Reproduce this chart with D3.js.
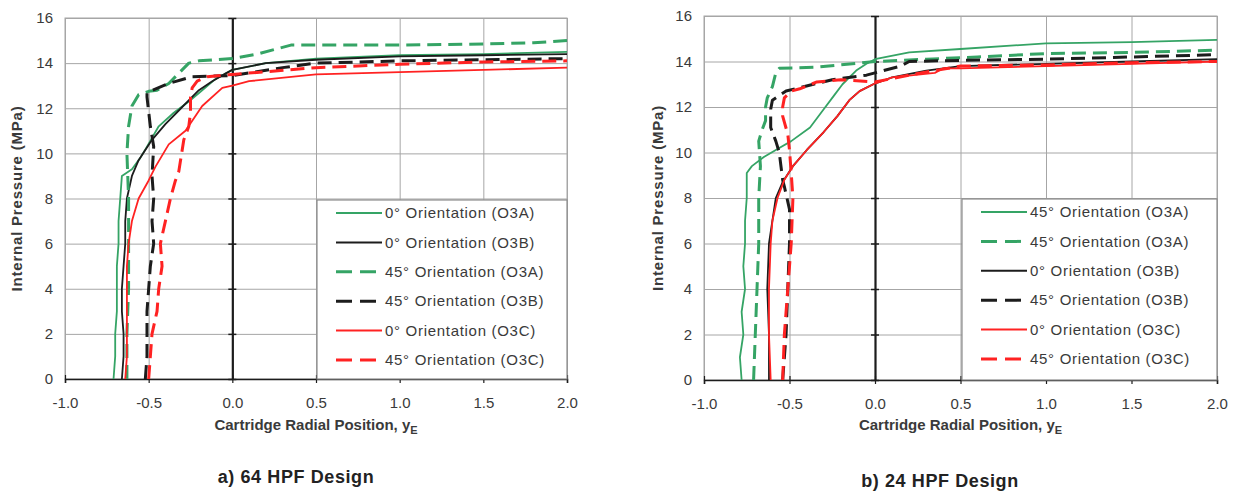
<!DOCTYPE html>
<html>
<head>
<meta charset="utf-8">
<script src="https://cdn.jsdelivr.net/npm/d3@7"></script>
<style>
  html, body { margin: 0; padding: 0; background: #fff; }
  svg { display: block; font-family: "Liberation Sans", Arial, sans-serif; }
</style>
</head>
<body>
<svg id="chart" width="1233" height="494"></svg>
<script>
// Axis ticks shared by both panels
const xTicks = [-1.0, -0.5, 0.0, 0.5, 1.0, 1.5, 2.0];
const yTicks = [0, 2, 4, 6, 8, 10, 12, 14, 16];

// Panel a) 64 HPF design: [radial position yE, internal pressure MPa]
const a_O3A_0 = [[-0.71,0],[-0.70,1],[-0.70,2],[-0.69,3],[-0.69,4],[-0.69,5],[-0.68,6],[-0.68,7],[-0.67,8],[-0.66,9.0],[-0.60,9.3],[-0.55,9.8],[-0.51,10.3],[-0.44,11.2],[-0.35,11.8],[-0.26,12.3],[-0.18,12.8],[-0.10,13.3],[0,13.7],[0.2,14.0],[0.5,14.2],[1.0,14.35],[1.5,14.4],[2.0,14.5]];
const a_O3B_0 = [[-0.66,0],[-0.65,1],[-0.65,2],[-0.66,3],[-0.66,4],[-0.65,5],[-0.64,6],[-0.64,7],[-0.63,8],[-0.60,9.0],[-0.56,9.7],[-0.48,10.6],[-0.40,11.3],[-0.32,11.9],[-0.20,12.8],[-0.12,13.2],[-0.05,13.5],[0,13.7],[0.2,14.0],[0.5,14.15],[1.0,14.3],[1.5,14.35],[2.0,14.4]];
const a_O3A_45 = [[-0.63,0],[-0.63,2],[-0.62,4],[-0.62,6],[-0.62,8],[-0.63,10],[-0.62,11.2],[-0.60,12.1],[-0.56,12.6],[-0.50,12.75],[-0.45,12.8],[-0.38,13.1],[-0.30,13.7],[-0.26,14.0],[-0.20,14.1],[0,14.2],[0.15,14.4],[0.35,14.8],[1.0,14.8],[1.5,14.85],[1.8,14.9],[2.0,15.0]];
const a_O3B_45 = [[-0.52,0],[-0.51,1],[-0.51,2],[-0.51,3],[-0.50,4],[-0.49,5],[-0.47,6],[-0.48,7],[-0.47,8],[-0.48,9],[-0.47,10.3],[-0.49,11.2],[-0.51,12.5],[-0.51,12.7],[-0.38,13.1],[-0.24,13.4],[0,13.45],[0.3,13.8],[0.5,14.0],[1.0,14.1],[2.0,14.2]];
const a_O3C_0 = [[-0.64,0],[-0.63,1],[-0.63,2],[-0.63,3],[-0.63,4],[-0.63,5],[-0.62,6],[-0.60,7],[-0.56,8],[-0.50,8.8],[-0.46,9.4],[-0.38,10.4],[-0.28,11.0],[-0.18,12.1],[-0.06,12.9],[0,13.0],[0.1,13.2],[0.5,13.5],[1.0,13.6],[1.5,13.7],[2.0,13.8]];
const a_O3C_45 = [[-0.50,0],[-0.49,1],[-0.48,2],[-0.45,3],[-0.44,4],[-0.42,5],[-0.43,6],[-0.40,7],[-0.37,8],[-0.34,8.8],[-0.32,9.2],[-0.29,10.6],[-0.26,11.2],[-0.25,11.8],[-0.25,12.5],[-0.24,12.9],[-0.21,13.2],[-0.15,13.4],[0,13.5],[0.5,13.8],[1.0,13.95],[1.5,14.05],[2.0,14.1]];

// Panel b) 24 HPF design
const b_O3A_45s = [[-0.78,0],[-0.79,1],[-0.77,2],[-0.78,3],[-0.76,4],[-0.77,5],[-0.76,6],[-0.76,7],[-0.75,8],[-0.75,9.1],[-0.72,9.4],[-0.65,9.8],[-0.56,10.2],[-0.49,10.5],[-0.38,11.1],[-0.30,11.9],[-0.24,12.5],[-0.19,13.0],[-0.11,13.6],[-0.05,13.9],[0,14.1],[0.2,14.4],[0.5,14.55],[1.0,14.8],[1.5,14.85],[2.0,14.95]];
const b_O3A_45d = [[-0.71,0],[-0.70,2],[-0.69,4],[-0.68,6],[-0.68,8],[-0.67,9.4],[-0.68,10.5],[-0.66,11.0],[-0.64,11.4],[-0.64,12.0],[-0.63,12.4],[-0.60,12.9],[-0.58,13.5],[-0.56,13.7],[-0.34,13.75],[-0.20,13.85],[0,14.0],[0.3,14.1],[0.6,14.2],[1.0,14.35],[1.5,14.4],[2.0,14.5]];
const b_O3B_0 = [[-0.62,0],[-0.62,2],[-0.63,4],[-0.62,6],[-0.60,7],[-0.58,8],[-0.54,8.7],[-0.48,9.4],[-0.40,10.1],[-0.30,10.9],[-0.22,11.6],[-0.15,12.3],[-0.09,12.7],[-0.01,13.0],[0.1,13.3],[0.3,13.6],[0.5,13.8],[1.0,13.9],[1.5,14.0],[2.0,14.1]];
const b_O3B_45 = [[-0.54,0],[-0.52,2],[-0.51,4],[-0.50,6],[-0.50,7.5],[-0.53,8.5],[-0.54,8.8],[-0.56,10],[-0.58,10.5],[-0.61,11.1],[-0.61,11.9],[-0.60,12.3],[-0.56,12.5],[-0.52,12.7],[-0.36,13.0],[-0.25,13.2],[-0.05,13.4],[0,13.5],[0.15,13.8],[0.2,14.0],[0.5,14.05],[1.0,14.1],[1.5,14.2],[2.0,14.3]];
const b_O3C_0 = [[-0.61,0],[-0.62,2],[-0.62,4],[-0.61,6],[-0.60,7],[-0.57,8],[-0.54,8.6],[-0.53,8.8],[-0.48,9.4],[-0.40,10.1],[-0.30,10.9],[-0.22,11.6],[-0.15,12.3],[-0.09,12.7],[-0.01,13.0],[0.1,13.3],[0.35,13.5],[0.4,13.7],[0.5,13.7],[1.0,13.8],[1.5,13.9],[2.0,14.0]];
const b_O3C_45 = [[-0.54,0],[-0.53,2],[-0.51,4],[-0.49,6],[-0.48,8],[-0.49,9.1],[-0.50,10.1],[-0.51,10.8],[-0.54,11.6],[-0.54,12.0],[-0.53,12.4],[-0.49,12.7],[-0.44,12.8],[-0.34,13.1],[-0.20,13.2],[0,13.1],[0.2,13.4],[0.5,13.8],[1.0,13.85],[1.5,13.95],[2.0,14.0]];

// Line styles
const GREEN = "#35a465", BLACK = "#1c1c1c", RED = "#ff2222";
const styles = {
  greenSolid: { color: GREEN, dash: null, width: 1.8 },
  greenDash:  { color: GREEN, dash: "14,7", width: 3 },
  blackSolid: { color: BLACK, dash: null, width: 1.8 },
  blackDash:  { color: BLACK, dash: "14,7", width: 3 },
  redSolid:   { color: RED,   dash: null, width: 1.8 },
  redDash:    { color: RED,   dash: "14,7", width: 3 }
};

const panels = [
  {
    left: 65, right: 567, top: 18, bottom: 379,
    yTitleX: 17, caption: "a) 64 HPF Design", captionX: 296, captionY: 483,
    legend: { x: 317, y: 200, w: 250 },
    series: [
      { name: "0° Orientation (O3A)",  data: a_O3A_0,  style: "greenSolid" },
      { name: "0° Orientation (O3B)",  data: a_O3B_0,  style: "blackSolid" },
      { name: "45° Orientation (O3A)", data: a_O3A_45, style: "greenDash" },
      { name: "45° Orientation (O3B)", data: a_O3B_45, style: "blackDash" },
      { name: "0° Orientation (O3C)",  data: a_O3C_0,  style: "redSolid" },
      { name: "45° Orientation (O3C)", data: a_O3C_45, style: "redDash" }
    ]
  },
  {
    left: 704, right: 1217, top: 16, bottom: 380,
    yTitleX: 658, caption: "b) 24 HPF Design", captionX: 940, captionY: 487,
    legend: { x: 962, y: 199, w: 255 },
    series: [
      { name: "45° Orientation (O3A)", data: b_O3A_45s, style: "greenSolid" },
      { name: "45° Orientation (O3A)", data: b_O3A_45d, style: "greenDash" },
      { name: "0° Orientation (O3B)",  data: b_O3B_0,   style: "blackSolid" },
      { name: "45° Orientation (O3B)", data: b_O3B_45,  style: "blackDash" },
      { name: "0° Orientation (O3C)",  data: b_O3C_0,   style: "redSolid" },
      { name: "45° Orientation (O3C)", data: b_O3C_45,  style: "redDash" }
    ]
  }
];

const svg = d3.select("#chart");
const GRID = "#a6a6a6", TEXT = "#3a3a3a";
const FONT = "Liberation Sans, Arial, sans-serif";
// Tick labels with a plain hyphen for negatives, one decimal
const fmtX = d => d.toFixed(1);

panels.forEach(p => {
  const x = d3.scaleLinear().domain([-1, 2]).range([p.left, p.right]);
  const y = d3.scaleLinear().domain([0, 16]).range([p.bottom, p.top]);
  const g = svg.append("g");
  const h = p.bottom - p.top, w = p.right - p.left;

  // Gridlines
  g.append("g").attr("transform", `translate(0,${p.bottom})`)
    .call(d3.axisBottom(x).tickValues(xTicks).tickSize(-h).tickFormat(""))
    .call(s => s.select(".domain").remove())
    .call(s => s.selectAll("line").attr("stroke", GRID).attr("stroke-width", 1));
  g.append("g").attr("transform", `translate(${p.left},0)`)
    .call(d3.axisLeft(y).tickValues(yTicks).tickSize(-w).tickFormat(""))
    .call(s => s.select(".domain").remove())
    .call(s => s.selectAll("line").attr("stroke", GRID).attr("stroke-width", 1));
  g.append("rect").attr("x", p.left).attr("y", p.top).attr("width", w).attr("height", h)
    .attr("fill", "none").attr("stroke", GRID).attr("stroke-width", 1);

  // Y tick labels at the left edge of the plot
  g.append("g").attr("transform", `translate(${p.left},0)`)
    .call(d3.axisLeft(y).tickValues(yTicks).tickSize(0).tickPadding(12).tickFormat(d3.format("d")))
    .call(s => s.select(".domain").remove())
    .call(s => s.selectAll("text").attr("font-size", 15).attr("fill", TEXT)
      .attr("font-family", FONT));

  // Horizontal axis line at P = 0 with ticks both ways
  const xAxisG = g.append("g").attr("transform", `translate(0,${p.bottom})`);
  xAxisG.append("g")
    .call(d3.axisBottom(x).tickValues(xTicks).tickSize(4).tickPadding(14).tickFormat(fmtX))
    .call(s => s.select(".domain").attr("stroke", BLACK).attr("stroke-width", 1.5))
    .call(s => s.selectAll("line").attr("stroke", BLACK).attr("stroke-width", 1.2))
    .call(s => s.selectAll("text").attr("font-size", 15).attr("fill", TEXT)
      .attr("font-family", FONT));
  xAxisG.append("g")
    .call(d3.axisTop(x).tickValues(xTicks).tickSize(4).tickSizeOuter(0).tickFormat(""))
    .call(s => s.select(".domain").remove())
    .call(s => s.selectAll("line").attr("stroke", BLACK).attr("stroke-width", 1.2));

  // Vertical axis line at yE = 0 with ticks both ways
  const yAxisG = g.append("g").attr("transform", `translate(${x(0)},0)`);
  yAxisG.append("g")
    .call(d3.axisLeft(y).tickValues(yTicks).tickSize(4).tickSizeOuter(0).tickFormat(""))
    .call(s => s.select(".domain").attr("stroke", BLACK).attr("stroke-width", 2.2))
    .call(s => s.selectAll("line").attr("stroke", BLACK).attr("stroke-width", 1.5));
  yAxisG.append("g")
    .call(d3.axisRight(y).tickValues(yTicks).tickSize(4).tickSizeOuter(0).tickFormat(""))
    .call(s => s.select(".domain").remove())
    .call(s => s.selectAll("line").attr("stroke", BLACK).attr("stroke-width", 1.5));

  // Data lines
  const line = d3.line().x(d => x(d[0])).y(d => y(d[1])).curve(d3.curveLinear);
  const clipId = "clip" + p.left;
  svg.append("clipPath").attr("id", clipId).append("rect")
    .attr("x", p.left).attr("y", p.top - 2).attr("width", w + 2).attr("height", h + 2);
  const lines = g.append("g").attr("clip-path", `url(#${clipId})`);
  p.series.forEach(s => {
    const st = styles[s.style];
    lines.append("path").datum(s.data).attr("d", line)
      .attr("fill", "none").attr("stroke", st.color).attr("stroke-width", st.width)
      .attr("stroke-dasharray", st.dash).attr("stroke-linejoin", "round");
  });

  // Legend
  const L = p.legend;
  const lg = g.append("g").attr("transform", `translate(${L.x},${L.y})`);
  lg.append("rect").attr("width", L.w).attr("height", p.bottom - L.y)
    .attr("fill", "#fff").attr("stroke", "#8c8c8c").attr("stroke-width", 1.2);
  p.series.forEach((s, i) => {
    const st = styles[s.style];
    const cy = 13 + i * 29.4;
    lg.append("line").attr("x1", 19).attr("x2", 65).attr("y1", cy).attr("y2", cy)
      .attr("stroke", st.color).attr("stroke-width", st.dash ? 3 : 2)
      .attr("stroke-dasharray", st.dash ? "16,8" : null);
    lg.append("text").attr("x", 68).attr("y", cy).attr("dy", "0.35em")
      .attr("font-size", 15).attr("letter-spacing", 0.7).attr("fill", TEXT).text(s.name);
  });

  // Axis titles
  const xt = g.append("text").attr("x", (p.left + p.right) / 2).attr("y", 430)
    .attr("text-anchor", "middle").attr("font-size", 15).attr("font-weight", "bold")
    .attr("fill", TEXT);
  xt.append("tspan").text("Cartridge Radial Position, y");
  xt.append("tspan").attr("font-size", 11).attr("dy", 4).text("E");

  g.append("text")
    .attr("transform", `translate(${p.yTitleX},${(p.top + p.bottom) / 2}) rotate(-90)`)
    .attr("text-anchor", "middle").attr("dy", "0.35em")
    .attr("font-size", 15).attr("font-weight", "bold").attr("letter-spacing", 0.8)
    .attr("fill", TEXT).text("Internal Pressure (MPa)");

  g.append("text").attr("x", p.captionX).attr("y", p.captionY)
    .attr("text-anchor", "middle").attr("font-size", 18).attr("font-weight", "bold")
    .attr("letter-spacing", 0.6).attr("fill", "#222").text(p.caption);
});
</script>
</body>
</html>
